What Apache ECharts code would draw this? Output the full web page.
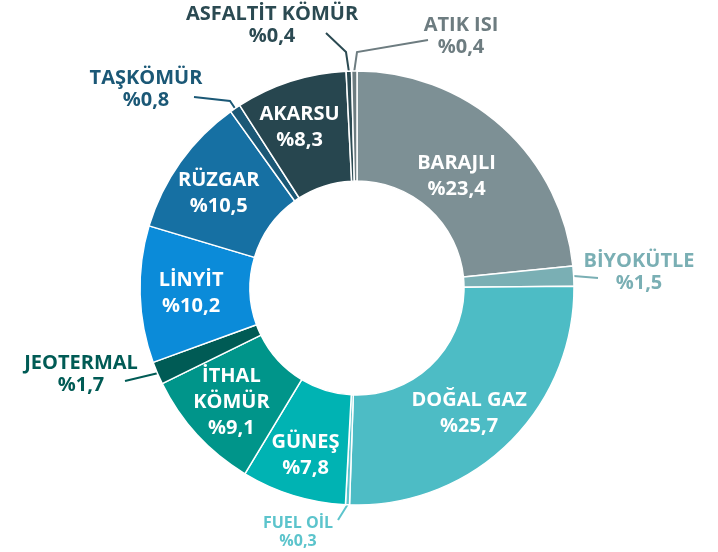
<!DOCTYPE html>
<html><head><meta charset="utf-8">
<script src="https://cdn.jsdelivr.net/npm/echarts@6/dist/echarts.min.js"></script>
<style>html,body{margin:0;padding:0;background:#fff}#c{width:718px;height:552px}</style>
</head><body><div id="c"></div>
<script>
const categories = ['BARAJLI','BİYOKÜTLE','DOĞAL GAZ','FUEL OİL','GÜNEŞ','İTHAL KÖMÜR','JEOTERMAL','LİNYİT','RÜZGAR','TAŞKÖMÜR','AKARSU','ASFALTİT KÖMÜR','ATIK ISI'];
const shares = [23.4, 1.5, 25.7, 0.3, 7.8, 9.1, 1.7, 10.2, 10.5, 0.8, 8.3, 0.4, 0.4];
const outsideNames = ['BİYOKÜTLE','FUEL OİL','JEOTERMAL','TAŞKÖMÜR','ASFALTİT KÖMÜR','ATIK ISI'];

const palette = ['#7d9095','#7aafb4','#4dbcc5','#5cc4cc','#00b3b3','#00958a','#005b55','#0b8bd9','#1670a3','#1b5876','#27464f','#2b4a52','#6d7c80'];
const FONT = '"Open Sans", "Noto Sans", sans-serif';

// placement of outside labels (text centre + leader bend points)
const outsidePlacement = {
  'ASFALTİT KÖMÜR': {x: 272, y: 25, pts: [[346, 52], [326, 33]]},
  'ATIK ISI': {x: 461, y: 36, pts: [[357, 52], [428, 40]]},
  'TAŞKÖMÜR': {x: 146, y: 89, pts: [[230, 101], [194, 97]]},
  'BİYOKÜTLE': {x: 639, y: 272, pts: [[598, 278]]},
  'JEOTERMAL': {x: 81, y: 374, pts: [[125, 381]]},
  'FUEL OİL': {x: 298, y: 532, pts: [[338, 520]]}
};
// small nudges of inside labels
const insideNudge = {
  'BARAJLI': [-11, 11], 'AKARSU': [-7, -4], 'RÜZGAR': [-4, 1], 'LİNYİT': [-1, 0],
  'İTHAL KÖMÜR': [-4, 3], 'GÜNEŞ': [-3, 10], 'DOĞAL GAZ': [-3, 7]
};

function fmt(v){ return '%' + v.toFixed(1).replace('.', ','); }

const data = categories.map((name, i) => {
  const outside = outsideNames.indexOf(name) >= 0;
  const small = name === 'FUEL OİL';
  const item = {
    name: name,
    value: shares[i],
    itemStyle: {color: palette[i]}
  };
  if (outside) {
    item.label = {
      position: 'outside',
      color: palette[i],
      fontSize: small ? 16 : 20,
      lineHeight: small ? 18 : 22
    };
    item.labelLine = {show: true, lineStyle: {color: palette[i], width: 2}};
  }
  return item;
});

const chart = echarts.init(document.getElementById('c'), null, {renderer: 'canvas'});
chart.setOption({
  animation: false,
  series: [{
    type: 'pie',
    center: [357, 288],
    radius: [107, 217],
    startAngle: 90,
    clockwise: true,
    avoidLabelOverlap: false,
    itemStyle: {borderColor: '#ffffff', borderWidth: 1.5},
    label: {
      show: true,
      position: 'inside',
      color: '#ffffff',
      fontFamily: FONT,
      fontWeight: 'bold',
      fontSize: 20,
      lineHeight: 26,
      align: 'center',
      formatter: function (p) {
        const nm = p.name === 'İTHAL KÖMÜR' ? 'İTHAL\nKÖMÜR' : p.name;
        return nm + '\n' + fmt(p.value);
      }
    },
    labelLine: {show: false},
    emphasis: {disabled: true},
    labelLayout: function (params) {
      const name = categories[params.dataIndex];
      const pl = outsidePlacement[name];
      if (!pl) {
        const n = insideNudge[name];
        return n ? {dx: n[0], dy: n[1]} : {};
      }
      const pts = [];
      if (params.labelLinePoints && params.labelLinePoints[0]) pts.push(params.labelLinePoints[0].slice());
      pl.pts.forEach(p => pts.push(p));
      return {x: pl.x, y: pl.y, align: 'center', verticalAlign: 'middle', labelLinePoints: pts};
    },
    data: data
  }]
});
</script></body></html>
